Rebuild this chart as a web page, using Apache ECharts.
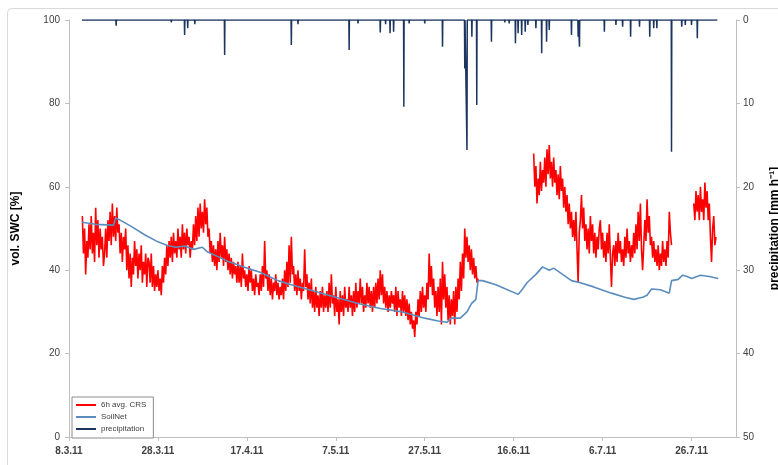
<!DOCTYPE html>
<html><head><meta charset="utf-8">
<script src="https://cdn.jsdelivr.net/npm/echarts@6/dist/echarts.min.js"></script>
<style>html,body{margin:0;padding:0;background:#fff}#c{width:778px;height:465px}</style>
</head><body><div id="c"></div>
<script>
// x values are days since 8.3.2011
const xTickDays = [0, 20, 40, 60, 80, 100, 120, 140];
const yLeftTicks = [0, 20, 40, 60, 80, 100];
const yRightTicks = [0, 10, 20, 30, 40, 50];

// 6h avg. CRS, step 0.25 day
const crsStep = 0.25;
const crsSeg1Start = 3.0;
const crsSeg1 = [
 53,44,50,39,47,43,51,45,53,44,49,42,55,46,52,43,50,45,48,41,
 44,50,43,52,47,54,46,56,48,53,47,55,49,51,44,49,42,48,45,50,
 40,46,38,44,36,43,39,47,41,45,38,44,40,46,37,42,39,44,36,43,
 42,37,44,36,41,35,39,36,40,35,38,34,41,37,43,39,46,41,47,43,
 48,42,49,44,47,43,50,45,48,43,51,45,49,44,50,46,48,43,47,45,
 51,46,53,47,55,48,56,50,54,49,57,51,55,48,50,44,47,42,46,41,
 45,40,47,42,49,43,46,41,48,42,45,40,44,39,43,38,42,39,41,37,
 42,37,41,36,44,38,40,36,39,35,41,37,40,35,38,34,39,36,37,34,
 39,35,41,36,47,38,40,35,39,34,38,33,37,35,39,34,37,33,36,34,
 38,33,40,35,42,36,46,37,48,39,41,35,39,34,40,35,38,33,37,35,
 45,36,39,33,37,32,38,31,35,30,36,31,34,29,35,31,36,30,34,31,
 35,30,37,31,39,32,34,29,36,30,33,27,35,30,34,29,36,31,33,30,
 36,31,34,29,35,30,37,31,35,32,38,32,36,30,34,31,37,32,36,31,
 35,30,36,31,37,32,38,33,40,34,39,32,36,31,35,30,34,31,35,32,
 34,30,36,29,35,31,33,29,35,30,34,29,33,28,32,27,30,26,28,24,
 30,27,33,29,35,30,36,31,34,30,37,33,44,36,41,34,38,31,35,29,
 36,30,38,27,42,33,39,31,36,28,34,27,33,29,35,27,36,30,38,33,
 42,35,44,38,50,43,48,42,46,40,45,39,43,38,41,37,38
];
const crsSeg2Start = 104.5;
const crsSeg2 = [
 68,60,65,56,62,58,66,59,64,61,67,60,69,63,70,62,66,60,67,61,
 64,58,63,57,65,59,62,55,60,54,58,51,56,50,54,48,52,47,54,45,
 37,49,52,58,50,55,47,51,45,50,44,53,47,51,44,49,43,48,45,50,
 52,45,49,43,47,42,49,44,51,43,36,44,46,41,47,42,49,44,47,42,
 45,41,48,43,50,44,47,42,46,43,49,44,51,45,54,47,56,45,40,46,
 52,47,57,49,53,46,48,43,47,42,45,41,46,40,44,41,47,42,45,41,
 47,43,54,49,46
];
const crsSeg3Start = 140.5;
const crsSeg3 = [56,52,59,54,58,52,60,54,57,52,61,55,59,52,56,48,42,50,53,46,48];

// SoilNet [day, value]
const soilDays = [2.9,6,10,10.5,11,14,17,20,22,24,26,28,30,31,33,36,40,43,47,50,55,60,65,70,75,80,83,85,86,88,89.5,90.5,91.5,92,93,96,101,102,103,105,106.5,108,109,111,113,115,118,122,125,127,129,130,131,133,135,135.5,137,138,139,140,142,144,146];
const soilVals = [51.5,51,50.8,52.5,52.3,50.5,48.5,46.8,46,45.5,45.8,45,45.5,44.5,43.5,42,40.5,39.5,37.5,36.5,35,33.5,32,30.8,30,28.5,27.8,27.5,28.5,28.5,30,32,33,37.5,37.5,36.5,34.2,35.5,37,39,40.8,40,40.5,39,37.5,37,36,34.5,33.5,33,33.5,34,35.5,35.3,34.5,37.5,37.8,38.8,38.5,38,38.8,38.5,38];

// precipitation events [day] and [mm/h]
const precipDays = [3,10.6,19.3,23,26,26.7,28.3,35,50,51.5,63,65,70,71.2,72.2,73,75.3,76.5,80,84,89,89.5,90.6,91.7,95,98,99,100.4,101,101.8,102.6,103.2,105,106.3,107.4,108,113,114.5,114.8,120.4,123,124.5,126.3,128.3,130.6,131.5,132.2,135.5,137.8,138.6,140,141.3];
const precipVals = [0.2,0.7,0.2,0.3,1.8,1.0,0.5,4.2,3.0,0.5,3.6,0.4,1.5,0.5,1.6,1.4,10.4,0.4,0.4,3.2,5.8,15.6,2.0,10.2,2.6,0.3,0.4,2.8,1.6,1.8,1.4,0.6,1.0,4.0,2.6,1.2,1.8,2.0,3.2,1.4,0.6,0.8,2.0,0.8,2.0,1.0,1.0,15.8,0.8,0.6,0.6,2.2];
const precipStart = 2.9, precipEnd = 145.8;

const crsData = [];
crsSeg1.forEach((v,i)=>crsData.push([crsSeg1Start+i*crsStep, v]));
crsData.push([97, '-']);
crsSeg2.forEach((v,i)=>crsData.push([crsSeg2Start+i*crsStep, v]));
crsData.push([138, '-']);
crsSeg3.forEach((v,i)=>crsData.push([crsSeg3Start+i*crsStep, v]));

const soilData = soilDays.map((d,i)=>[d, soilVals[i]]);

const precipData = [[precipStart,0]];
precipDays.forEach((d,i)=>{precipData.push([d-0.06,0],[d,precipVals[i]],[d+0.06,0]);});
precipData.push([precipEnd,0]);

const base = Date.UTC(2011,2,8);
function fmtDay(v){
  if (xTickDays.indexOf(v) < 0) return '';
  const d = new Date(base + v*86400000);
  return d.getUTCDate() + '.' + (d.getUTCMonth()+1) + '.11';
}

const chart = echarts.init(document.getElementById('c'), null, {renderer:'canvas'});
const axisLineStyle = {lineStyle:{color:'#bfbfbf', width:1}};
chart.setOption({
  animation:false,
  textStyle:{fontFamily:'Liberation Sans'},
  graphic:[{type:'rect', shape:{x:7.5,y:8.5,width:790,height:470,r:4}, style:{fill:'none', stroke:'#d9d9d9', lineWidth:1}, z:-1}],
  grid:{left:69, right:42, top:20, bottom:28, outerBoundsMode:'none', containLabel:false},
  legend:{
    orient:'vertical', left:72, top:397, itemWidth:20, itemHeight:2, itemGap:4,
    padding:[4,7,5,4], borderColor:'#8c8c8c', borderWidth:1, backgroundColor:'#fff',
    textStyle:{fontSize:8, color:'#404040', fontFamily:'Liberation Sans'},
    data:[{name:'6h avg. CRS', icon:'rect'},{name:'SoilNet', icon:'rect'},{name:'precipitation', icon:'rect'}]
  },
  xAxis:{
    type:'value', min:0, max:150, interval:20,
    axisLine:axisLineStyle, axisTick:{show:true, length:4, lineStyle:{color:'#bfbfbf'}},
    splitLine:{show:false},
    axisLabel:{formatter:fmtDay, fontSize:10, fontWeight:'bold', color:'#404040', margin:9, showMaxLabel:false}
  },
  yAxis:[{
    type:'value', min:0, max:100, interval:20, position:'left',
    name:'vol. SWC [%]', nameLocation:'middle', nameGap:47, nameRotate:90,
    nameTextStyle:{fontSize:12, color:'#000', fontWeight:'bold'},
    axisLine:{show:true, lineStyle:{color:'#bfbfbf'}}, axisTick:{show:true, length:4, lineStyle:{color:'#bfbfbf'}},
    splitLine:{show:false},
    axisLabel:{fontSize:10, color:'#404040', margin:9}
  },{
    type:'value', min:0, max:50, interval:10, inverse:true, position:'right',
    name:'precipitation [mm h⁻¹]', nameLocation:'middle', nameGap:33, nameRotate:90,
    nameTextStyle:{fontSize:12, color:'#000', fontWeight:'bold'},
    axisLine:{show:true, lineStyle:{color:'#bfbfbf'}}, axisTick:{show:true, length:4, lineStyle:{color:'#bfbfbf'}},
    splitLine:{show:false},
    axisLabel:{fontSize:10, color:'#404040', margin:7}
  }],
  series:[
    {name:'6h avg. CRS', type:'line', data:crsData, yAxisIndex:0, showSymbol:false, connectNulls:false,
     lineStyle:{color:'#ff0000', width:1.6}, itemStyle:{color:'#ff0000'}, z:2},
    {name:'SoilNet', type:'line', data:soilData, yAxisIndex:0, showSymbol:false,
     lineStyle:{color:'#5a8dbd', width:1.6}, itemStyle:{color:'#5a8dbd'}, z:3},
    {name:'precipitation', type:'line', data:precipData, yAxisIndex:1, showSymbol:false,
     lineStyle:{color:'#1b3560', width:1.5}, itemStyle:{color:'#1b3560'}, z:4}
  ]
});
</script></body></html>
